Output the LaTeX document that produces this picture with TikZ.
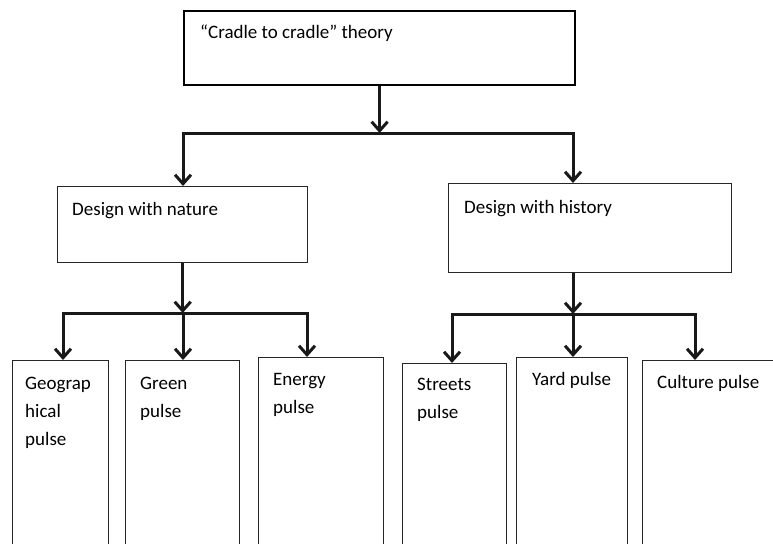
\documentclass[tikz,border=0pt]{standalone}
\usepackage{fontspec}
\setmainfont{Carlito}
\usetikzlibrary{arrows.meta}
\begin{document}
\begin{tikzpicture}[x=1pt,y=-1pt,
  box/.style={draw=black!85, line width=1.4pt, rectangle, inner sep=0pt, anchor=north west},
  topbox/.style={box, draw=black, line width=2.2pt},
  conn/.style={line width=3pt, draw=black!90},
  tip/.tip={Straight Barb[length=9pt,width=16pt]},
  arr/.style={conn, -tip},
  darr/.style={conn, tip-tip},
  txt/.style={inner sep=0pt, anchor=base west, align=left, font=\fontsize{19}{28}\selectfont, text=black}]
\useasboundingbox (0,0) rectangle (773,543);
\clip (0,0) rectangle (773,543);
\fill[white] (0,0) rectangle (773,543);

% boxes
\node[topbox, minimum width=391pt, minimum height=74pt] (top) at (183,10) {};
\node[box, minimum width=250pt, minimum height=76pt] (dn) at (57,186) {};
\node[box, minimum width=283pt, minimum height=89pt] (dh) at (448,183) {};
\node[box, minimum width=96pt, minimum height=200pt] (geo) at (12,360) {};
\node[box, minimum width=114pt, minimum height=200pt] (green) at (125,360) {};
\node[box, minimum width=125pt, minimum height=200pt] (energy) at (258,357) {};
\node[box, minimum width=104pt, minimum height=200pt] (streets) at (402,363) {};
\node[box, minimum width=111pt, minimum height=200pt] (yard) at (516,357) {};
\node[box, minimum width=160pt, minimum height=200pt] (culture) at (642,360) {};

% texts (base = baseline of the last line)
\node[txt] (ttop) at (200,39) {“Cradle to cradle” theory};
\node[txt] (tdn) at (72,215) {Design with nature};
\node[txt] (tdh) at (464,213) {Design with history};
\node[txt] (tgeo) at (25,445) {Geograp\\hical\\pulse};
\node[txt] (tgreen) at (140,417) {Green\\pulse};
\node[txt] (tenergy) at (273,413) {Energy\\pulse};
\node[txt] (tstreets) at (417,418) {Streets\\pulse};
\node[txt] (tyard) at (532,385) {Yard pulse};
\node[txt] (tculture) at (657,388) {Culture pulse};

% junction coordinates
\coordinate (jl) at (183,133);
\coordinate (jr) at (573,133);
\coordinate (n1) at (63,313);
\coordinate (n2) at (183,313);
\coordinate (n3) at (307,313);
\coordinate (h1) at (452,314);
\coordinate (h2) at (573,314);
\coordinate (h3) at (695,314);

% connectors
\draw[arr] (top.south) -- (top.south |- jl);
\draw[darr] (jl |- dn.north) -- (jl) -- (jr) -- (jr |- dh.north);

\draw[arr] (dn.south) -- (dn.south |- n2);
\draw[darr] (n1 |- geo.north) -- (n1) -- (n3) -- (n3 |- energy.north);
\draw[arr] (n2) -- (n2 |- green.north);

\draw[arr] (h2 |- dh.south) -- (h2);
\draw[darr] (h1 |- streets.north) -- (h1) -- (h3) -- (h3 |- culture.north);
\draw[arr] (h2) -- (h2 |- yard.north);
\end{tikzpicture}
\end{document}
